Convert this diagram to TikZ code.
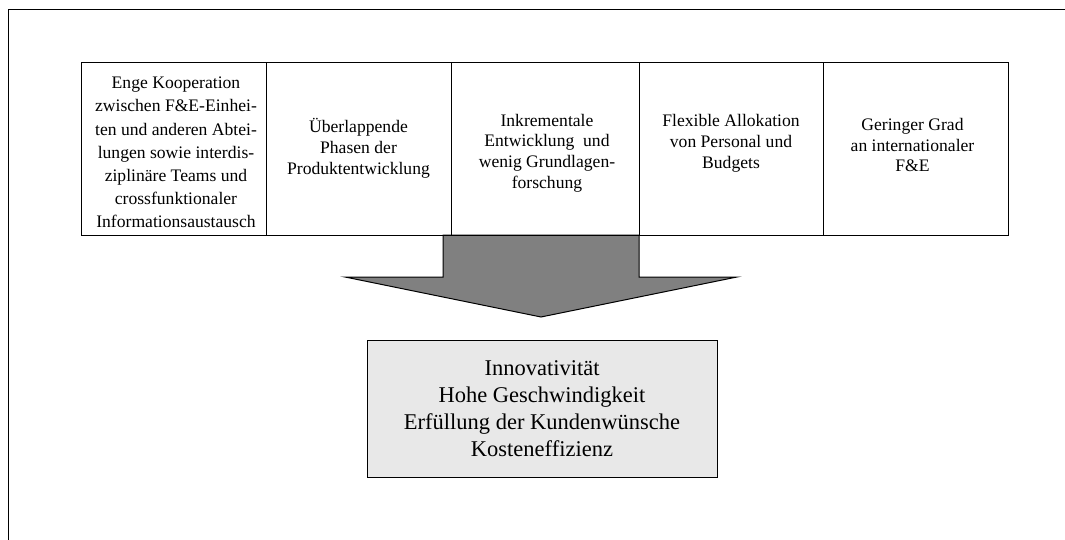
\documentclass[tikz,border=0pt]{standalone}
\usepackage{fontspec}
\setmainfont{Liberation Serif}
\usetikzlibrary{calc}
\begin{document}
\begin{tikzpicture}[x=1pt,y=-1pt,
  frame/.style={line width=1pt},
  cell/.style={draw, line width=1pt, rectangle, minimum width=#1,
    minimum height=172pt, inner sep=0pt, outer sep=0pt},
  celltext/.style={align=center, inner sep=0pt,
    font=\fontsize{17.6}{20.8}\selectfont},
  widetext/.style={align=center, inner sep=0pt,
    font=\fontsize{17.6}{23.2}\selectfont},
  resultbox/.style={draw, line width=1pt, fill=black!9, rectangle,
    minimum width=350pt, minimum height=137pt, inner sep=0pt},
  resulttext/.style={align=center, inner sep=0pt,
    font=\fontsize{22.5}{27}\selectfont},
  bigarrow/.style={draw, line width=1pt, fill=black!50, line join=miter}]
\useasboundingbox (0,0) rectangle (1065,540);

% page frame, open to the right and bottom
\draw[frame] (8,540) -- (8,10) -- (1065,10);

% row of five factor cells
\node[cell=185pt] (b1) at (173.5,149) {};
\node[cell=185pt] (b2) at (358.5,149) {};
\node[cell=188pt] (b3) at (545,149) {};
\node[cell=184pt] (b4) at (731,149) {};
\node[cell=185pt] (b5) at (915.5,149) {};

% block arrow leading down to the outcome box
\coordinate (sl) at (443,235);
\coordinate (sr) at (b4.south west);
\coordinate (hl) at (345,277);
\coordinate (hr) at (737,277);
\coordinate (tip) at (541,317);
\draw[bigarrow] (sl) -- (sl |- hl) -- (hl) -- (tip) -- (hr) -- (sr |- hr) -- (sr) -- cycle;

% redraw the cell borders over the arrow top
\draw[line width=1pt] (b1.south west) -- (b5.south east);

% cell texts
\node[widetext] (t1) at ($(b1)+(2.5,3.5)$) {Enge Kooperation\\zwischen F\&E-Einhei-\\ten und anderen Abtei-\\lungen sowie interdis-\\ziplinäre Teams und\\crossfunktionaler\\Informationsaustausch};
\node[celltext] (t2) at ($(b2)+(0,-0.5)$) {Überlappende\\Phasen der\\Produktentwicklung};
\node[celltext] (t3) at ($(b3)+(2,4)$) {Inkrementale\\Entwicklung\ \ und\\wenig Grundlagen-\\forschung};
\node[celltext] (t4) at ($(b4)+(0,-5.5)$) {Flexible Allokation\\von Personal und\\Budgets};
\node[celltext] (t5) at ($(b5)+(-3,-4)$) {Geringer Grad\\an internationaler\\F\&E};

% outcome box
\node[resultbox] (res) at (542,408.5) {};
\node[resulttext] (rt) at (res) {Innovativität\\Hohe Geschwindigkeit\\Erfüllung der Kundenwünsche\\Kosteneffizienz};
\end{tikzpicture}
\end{document}
